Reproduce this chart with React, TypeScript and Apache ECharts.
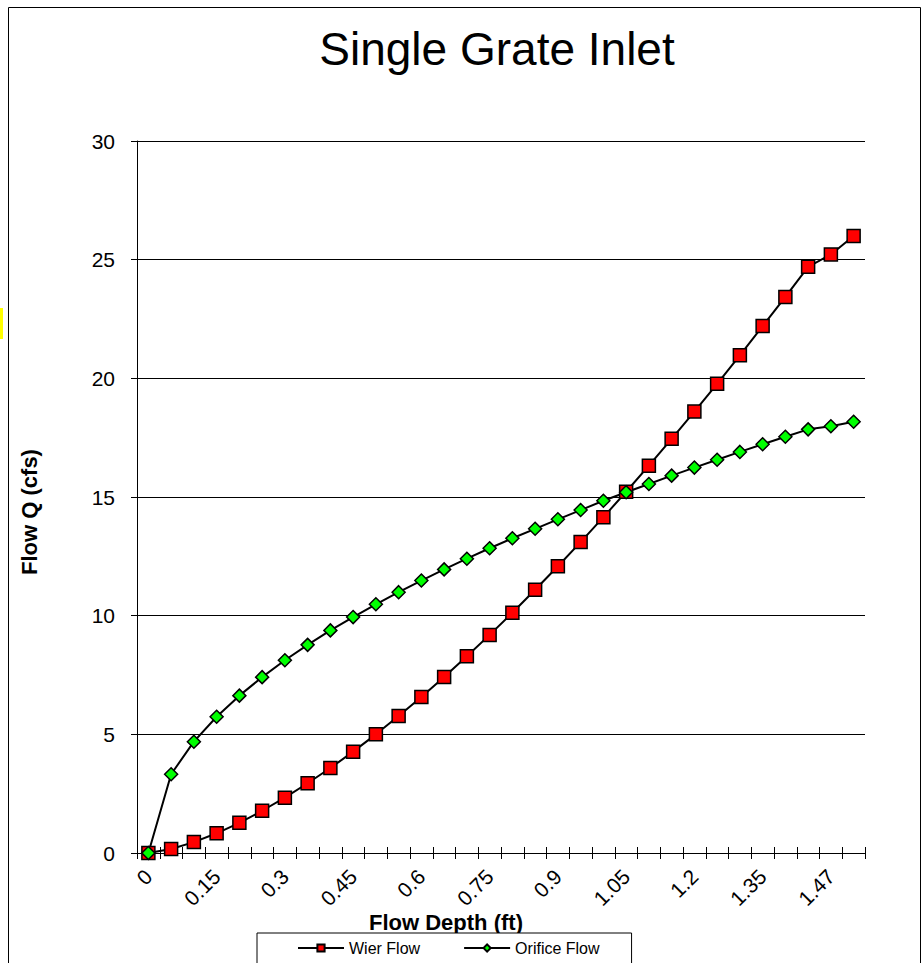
import React, { useEffect, useRef } from 'react';
import * as echarts from 'echarts';

const depthLabels = [
  '0', '0.05', '0.1', '0.15', '0.2', '0.25', '0.3', '0.35', '0.4', '0.45',
  '0.5', '0.55', '0.6', '0.65', '0.7', '0.75', '0.8', '0.85', '0.9', '0.95',
  '1', '1.05', '1.1', '1.15', '1.2', '1.25', '1.3', '1.35', '1.4', '1.45',
  '1.47', '1.5',
];

const wierFlow = [
  0, 0.17, 0.46, 0.83, 1.27, 1.78, 2.33, 2.94, 3.58, 4.27,
  5.0, 5.77, 6.57, 7.42, 8.29, 9.19, 10.12, 11.09, 12.08, 13.1,
  14.15, 15.22, 16.32, 17.45, 18.6, 19.77, 20.97, 22.2, 23.43, 24.7,
  25.22, 26.0,
];

const orificeFlow = [
  0, 3.32, 4.69, 5.74, 6.63, 7.41, 8.12, 8.77, 9.38, 9.94,
  10.48, 10.99, 11.48, 11.95, 12.4, 12.84, 13.26, 13.66, 14.06, 14.45,
  14.84, 15.2, 15.55, 15.9, 16.24, 16.57, 16.9, 17.22, 17.54, 17.85,
  17.98, 18.17,
];

const FONT = "'Liberation Sans', Arial, sans-serif";

export default function App() {
  const ref = useRef<HTMLDivElement>(null);

  useEffect(() => {
    document.body.style.margin = '0';
    const chart = echarts.init(ref.current!, null, { renderer: 'svg' });
    chart.setOption({
      animation: false,
      backgroundColor: '#ffffff',
      textStyle: { fontFamily: FONT, color: '#000' },
      grid: { left: 137, right: 58, top: 141, bottom: 110, containLabel: false },
      xAxis: [
        {
          type: 'category',
          data: depthLabels,
          boundaryGap: true,
          position: 'bottom',
          axisLine: { show: true, lineStyle: { color: '#000', width: 1 } },
          axisTick: { show: true, interval: 0, length: 6, lineStyle: { color: '#000', width: 1 } },
          axisLabel: {
            interval: 2,
            rotate: 45,
            fontSize: 21,
            margin: 20,
            color: '#000',
            fontFamily: FONT,
          },
          splitLine: { show: false },
        },
        {
          type: 'category',
          data: depthLabels,
          boundaryGap: true,
          position: 'bottom',
          axisLine: { show: false },
          axisTick: { show: true, inside: true, interval: 0, length: 6, lineStyle: { color: '#000', width: 1 } },
          axisLabel: { show: false },
          splitLine: { show: false },
        },
      ],
      yAxis: {
        type: 'value',
        min: 0,
        max: 30,
        interval: 5,
        axisLine: { show: true, lineStyle: { color: '#000', width: 1 } },
        axisTick: { show: true, length: 6, lineStyle: { color: '#000', width: 1 } },
        axisLabel: { fontSize: 21, margin: 22, color: '#000', fontFamily: FONT },
        splitLine: { show: true, lineStyle: { color: '#000', width: 1 } },
      },
      legend: {
        data: ['Wier Flow', 'Orifice Flow'],
        left: 257,
        top: 933,
        orient: 'horizontal',
        itemWidth: 46,
        itemHeight: 9,
        itemGap: 43,
        padding: [7, 32, 20, 40],
        borderColor: '#000',
        borderWidth: 1,
        backgroundColor: '#fff',
        textStyle: { fontSize: 16, color: '#000', fontFamily: FONT },
      },
      series: [
        {
          name: 'Wier Flow',
          type: 'line',
          data: wierFlow,
          xAxisIndex: 0,
          symbol: 'rect',
          symbolSize: 13,
          itemStyle: { color: '#ff0000', borderColor: '#000', borderWidth: 1.5 },
          lineStyle: { color: '#000', width: 2 },
        },
        {
          name: 'Orifice Flow',
          type: 'line',
          data: orificeFlow,
          xAxisIndex: 0,
          symbol: 'diamond',
          symbolSize: 13,
          itemStyle: { color: '#00ff00', borderColor: '#000', borderWidth: 1.5 },
          lineStyle: { color: '#000', width: 2 },
        },
      ],
      graphic: [
        {
          type: 'rect',
          shape: { x: 8.5, y: 7.5, width: 912, height: 1000 },
          style: { fill: 'none', stroke: '#000', lineWidth: 1 },
          silent: true,
          z: -10,
        },
        {
          type: 'rect',
          shape: { x: 0, y: 308, width: 3, height: 31 },
          style: { fill: '#ffff00' },
          silent: true,
        },
        {
          type: 'text',
          x: 497,
          y: 49,
          style: {
            text: 'Single Grate Inlet',
            font: `46px ${FONT}`,
            fill: '#000',
            align: 'center',
            verticalAlign: 'middle',
            textAlign: 'center',
            textVerticalAlign: 'middle',
          },
        },
        {
          type: 'text',
          x: 446,
          y: 922,
          style: {
            text: 'Flow Depth (ft)',
            font: `bold 22px ${FONT}`,
            fill: '#000',
            align: 'center',
            verticalAlign: 'middle',
            textAlign: 'center',
            textVerticalAlign: 'middle',
          },
        },
        {
          type: 'text',
          x: 29,
          y: 512,
          rotation: Math.PI / 2,
          style: {
            text: 'Flow Q (cfs)',
            font: `bold 22px ${FONT}`,
            fill: '#000',
            align: 'center',
            verticalAlign: 'middle',
            textAlign: 'center',
            textVerticalAlign: 'middle',
          },
        },
      ],
    });
    return () => chart.dispose();
  }, []);

  return <div ref={ref} style={{ width: 923, height: 963 }} />;
}
